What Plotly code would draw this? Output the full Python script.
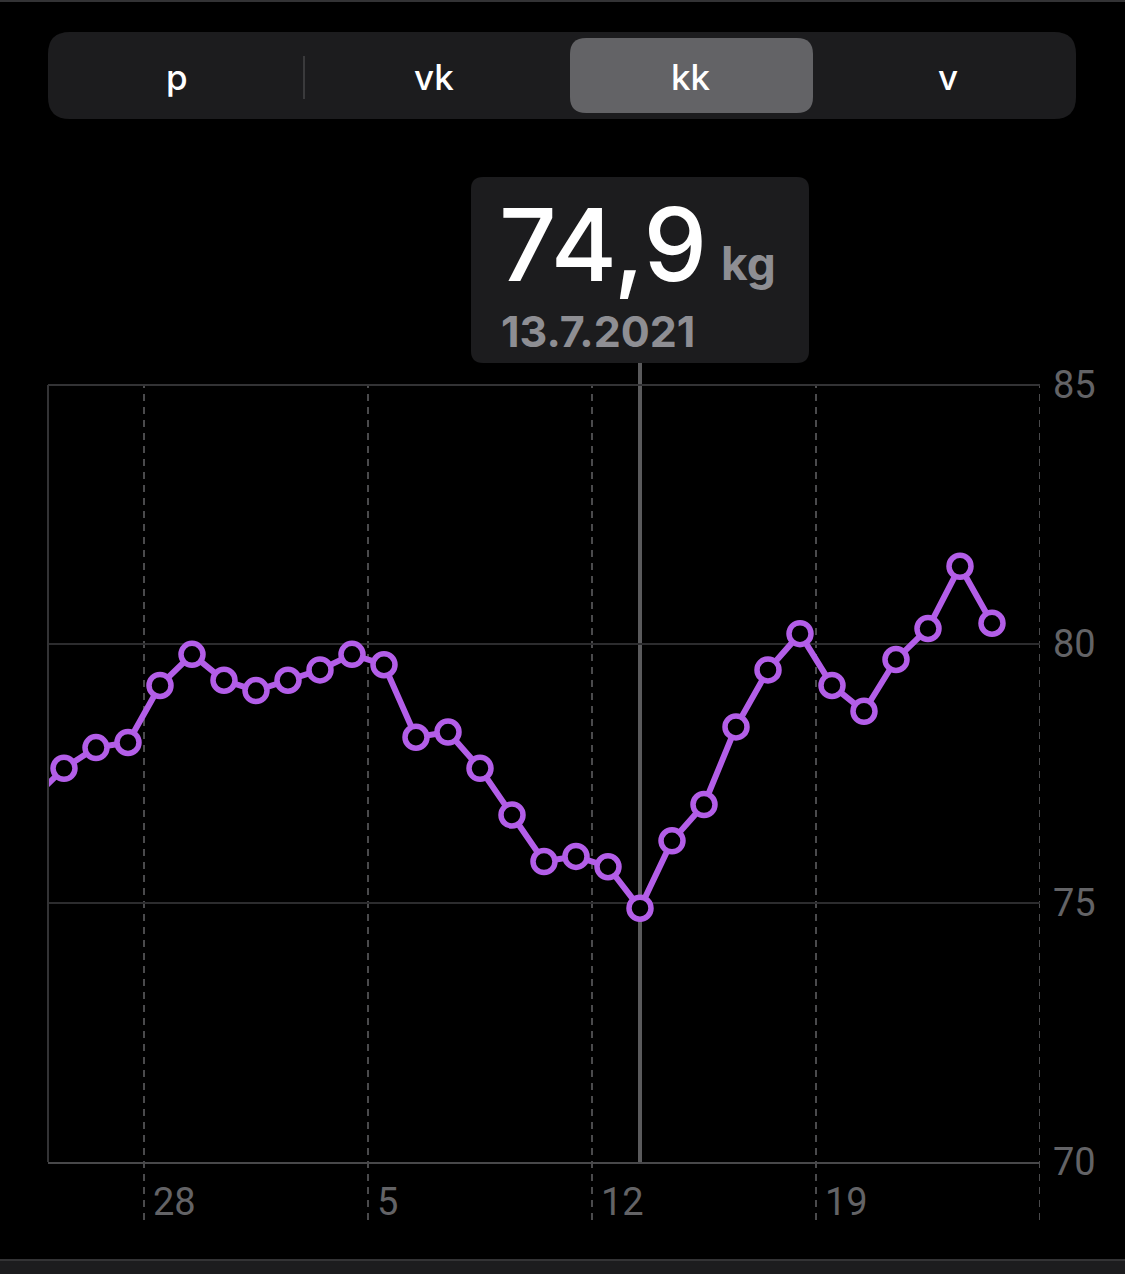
import plotly.graph_objects as go

# ---------------- data ----------------
dates = [
    "2021-06-24", "2021-06-25", "2021-06-26", "2021-06-27", "2021-06-28", "2021-06-29",
    "2021-06-30", "2021-07-01", "2021-07-02", "2021-07-03", "2021-07-04", "2021-07-05",
    "2021-07-06", "2021-07-07", "2021-07-08", "2021-07-09", "2021-07-10", "2021-07-11",
    "2021-07-12", "2021-07-13", "2021-07-14", "2021-07-15", "2021-07-16", "2021-07-17",
    "2021-07-18", "2021-07-19", "2021-07-20", "2021-07-21", "2021-07-22", "2021-07-23",
    "2021-07-24",
]
weights = [
    77.0, 77.6, 78.0, 78.1, 79.2, 79.8,
    79.3, 79.1, 79.3, 79.5, 79.8, 79.6,
    78.2, 78.3, 77.6, 76.7, 75.8, 75.9,
    75.7, 74.9, 76.2, 76.9, 78.4, 79.5,
    80.2, 79.2, 78.7, 79.7, 80.3, 81.5,
    80.4,
]
week_ticks = ["2021-06-28", "2021-07-05", "2021-07-12", "2021-07-19", "2021-07-26"]
week_labels = ["28", "5", "12", "19", ""]
y_ticks = [70, 75, 80, 85]
segments = ["p", "vk", "kk", "v"]
selected_segment = 2
selected_date = "2021-07-13"
selected_value_text = "74,9"
selected_unit = "kg"
selected_date_text = "13.7.2021"

# ---------------- geometry helpers ----------------
W, H = 1125, 1274
L, R, T, B = 48, 1040, 385, 1162


def pxx(x):
    return (x - L) / (R - L)


def pxy(y):
    return (B - y) / (B - T)


def rounded_rect(x0, y0, x1, y1, r):
    rx = r / (R - L)
    ry = r / (B - T)
    X0, X1 = pxx(x0), pxx(x1)
    Y0, Y1 = pxy(y0), pxy(y1)
    return (
        f"M {X0+rx},{Y0} L {X1-rx},{Y0} Q {X1},{Y0} {X1},{Y0-ry} "
        f"L {X1},{Y1+ry} Q {X1},{Y1} {X1-rx},{Y1} "
        f"L {X0+rx},{Y1} Q {X0},{Y1} {X0},{Y1+ry} "
        f"L {X0},{Y0-ry} Q {X0},{Y0} {X0+rx},{Y0} Z"
    )


purple = "#b35ee8"
xs = [d + " 12:00" for d in dates]

fig = go.Figure()
fig.add_trace(go.Scatter(
    x=xs, y=weights, mode="lines+markers",
    line=dict(color=purple, width=6),
    marker=dict(size=22, color="black", line=dict(color=purple, width=5.5)),
    hoverinfo="skip",
))

shapes = []
for d in week_ticks:
    shapes.append(dict(type="line", xref="x", yref="paper", x0=d, x1=d,
                       y0=pxy(1220), y1=1, layer="below",
                       line=dict(color="#4a4a4c", width=2, dash="7px,6px")))
shapes.append(dict(type="line", xref="paper", yref="paper", x0=0, x1=0, y0=0, y1=1,
                   line=dict(color="#333335", width=2)))
shapes.append(dict(type="line", xref="paper", yref="paper", x0=0, x1=1, y0=1, y1=1,
                   line=dict(color="#333335", width=2)))
shapes.append(dict(type="line", xref="x", yref="paper",
                   x0=selected_date + " 12:00", x1=selected_date + " 12:00",
                   y0=0, y1=pxy(363), layer="below",
                   line=dict(color="#5a5a5c", width=4)))
shapes.append(dict(type="path", xref="paper", yref="paper",
                   path=rounded_rect(471, 177, 809, 363, 12),
                   fillcolor="#1c1c1e", line=dict(width=0)))
shapes.append(dict(type="path", xref="paper", yref="paper",
                   path=rounded_rect(48, 32, 1076, 119, 22),
                   fillcolor="#1c1c1e", line=dict(width=0)))
seg_w = (1076 - 48) / len(segments)
sx0 = 48 + seg_w * selected_segment + 8
shapes.append(dict(type="path", xref="paper", yref="paper",
                   path=rounded_rect(sx0, 38, sx0 + seg_w - 14, 113, 16),
                   fillcolor="#636366", line=dict(width=0)))
shapes.append(dict(type="line", xref="paper", yref="paper",
                   x0=pxx(304), x1=pxx(304), y0=pxy(56), y1=pxy(99),
                   line=dict(color="#3a3a3c", width=2)))
shapes.append(dict(type="rect", xref="paper", yref="paper",
                   x0=pxx(0), x1=pxx(W), y0=pxy(0), y1=pxy(2),
                   fillcolor="#333335", line=dict(width=0)))
shapes.append(dict(type="rect", xref="paper", yref="paper",
                   x0=pxx(0), x1=pxx(W), y0=pxy(1260), y1=pxy(1276),
                   fillcolor="#1c1c1e", line=dict(width=0)))
shapes.append(dict(type="line", xref="paper", yref="paper",
                   x0=pxx(0), x1=pxx(W), y0=pxy(1260), y1=pxy(1260),
                   line=dict(color="#333335", width=2)))

annotations = []
for d, t in zip(week_ticks, week_labels):
    if t:
        annotations.append(dict(x=d, xref="x", y=pxy(1202), yref="paper",
                                text=t, showarrow=False, xanchor="left", yanchor="middle",
                                xshift=7,
                                font=dict(family="Roboto", size=38, color="#636366")))
for i, s in enumerate(segments):
    cx = 48 + seg_w * (i + 0.5)
    annotations.append(dict(x=pxx(cx), xref="paper", y=pxy(77), yref="paper",
                            text=s, showarrow=False, xanchor="center", yanchor="middle",
                            font=dict(family="Inter", size=35, color="white", weight=500)))
annotations.append(dict(x=pxx(497), xref="paper", y=pxy(244), yref="paper",
                        text=selected_value_text, showarrow=False,
                        xanchor="left", yanchor="middle",
                        font=dict(family="Inter", size=101, color="white", weight=500)))
annotations.append(dict(x=pxx(719), xref="paper", y=pxy(263), yref="paper",
                        text=f"<b>{selected_unit}</b>", showarrow=False,
                        xanchor="left", yanchor="middle",
                        font=dict(family="Inter", size=46, color="#8e8e93")))
annotations.append(dict(x=pxx(499), xref="paper", y=pxy(331), yref="paper",
                        text=f"<b>{selected_date_text}</b>", showarrow=False,
                        xanchor="left", yanchor="middle",
                        font=dict(family="Inter", size=43, color="#8e8e93")))

fig.update_layout(
    width=W, height=H,
    margin=dict(l=L, r=W - R, t=T, b=H - B, pad=0),
    paper_bgcolor="black", plot_bgcolor="black",
    showlegend=False, hovermode=False,
    shapes=shapes, annotations=annotations,
    xaxis=dict(type="date", range=["2021-06-25", "2021-07-26"],
               showgrid=False, zeroline=False, showticklabels=False, ticks="",
               showline=True, linecolor="#48484a", linewidth=2, fixedrange=True),
    yaxis=dict(range=[70, 85], side="right", tickvals=y_ticks,
               showgrid=True, gridcolor="#2c2c2e", gridwidth=2,
               zeroline=False, showline=False, ticks="",
               ticklabelstandoff=12,
               tickfont=dict(family="Roboto", size=38, color="#636366"),
               fixedrange=True),
)

fig.write_html("out.html", config={"displayModeBar": False},
               post_script="document.body.style.margin='0';")
